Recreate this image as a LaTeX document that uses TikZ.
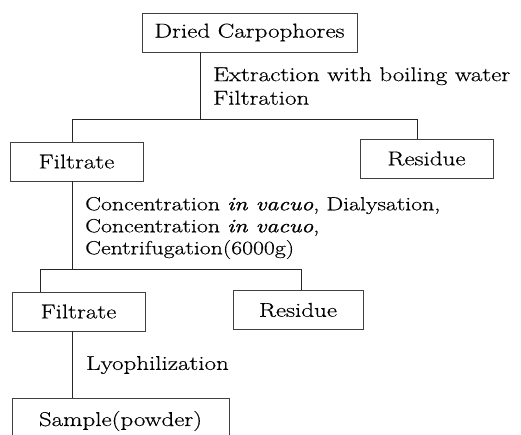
\documentclass[tikz,border=0pt]{standalone}
\usepackage{fontspec}
\setmainfont{Latin Modern Roman}[FakeStretch=1.25, FakeBold=0.4,
  ItalicFeatures={FakeBold=1.4}]
\newcommand{\labfont}[2]{\fontsize{#1}{#2}\selectfont\lineskiplimit=-100pt\relax}
\begin{document}
\begin{tikzpicture}[x=1pt, y=-1pt,
  font={\labfont{20}{23.5}},
  box/.style={draw=black!75, line width=0.6pt, inner sep=0pt,
              minimum width=#1, minimum height=39pt},
  lbl/.style={anchor=west, align=left, inner sep=0pt},
  ln/.style={draw=black!85, line width=0.8pt}
]
  \useasboundingbox (0,0) rectangle (521,435);

  % --- Boxes ---
  \node[box=215pt] (dried)   at (249.5, 32.5) {Dried Carpophores};
  \node[box=133pt] (filtA)   at (76.5, 161.5) {Filtrate};
  \node[box=133pt] (resA)    at (426.5,158.5) {Residue};
  \node[box=133pt] (filtB)   at (78.5, 311.5) {Filtrate};
  \node[box=130pt] (resB)    at (298,  310)   {Residue};
  \node[box=217pt, minimum height=46pt] (sample) at (120.5,421) {Sample(powder)};

  % --- Step labels ---
  \node[lbl] (stepA) at (213, 86)  {Extraction with boiling water\\Filtration};
  \node[lbl, font={\labfont{19}{22}}] (stepB) at (85, 228)
        {Concentration \textit{in vacuo}, Dialysation,\\
         Concentration \textit{in vacuo},\\
         Centrifugation(6000g)};
  \node[lbl] (stepC) at (86, 365) {Lyophilization};

  % --- First split ---
  \coordinate (barAl) at (72, 119);
  \coordinate (barAr) at (417,119);
  \coordinate (stemA) at (200,119);
  \draw[ln] (dried.south -| stemA) -- (stemA);
  \draw[ln] (barAl) -- (barAr);
  \draw[ln] (barAl) -- (barAl |- filtA.north);
  \draw[ln] (barAr) -- (barAr |- resA.north);

  % --- Second split ---
  \coordinate (barBl) at (40, 269);
  \coordinate (barBr) at (301,269);
  \coordinate (stemB) at (72, 269);
  \draw[ln] (filtA.south -| stemB) -- (stemB);
  \draw[ln] (barBl) -- (barBr);
  \draw[ln] (barBl) -- (barBl |- filtB.north);
  \draw[ln] (barBr) -- (barBr |- resB.north);

  % --- Last step ---
  \coordinate (stemC) at (72, 337);
  \draw[ln] (filtB.south -| stemC) -- (stemC |- sample.north);
\end{tikzpicture}
\end{document}
